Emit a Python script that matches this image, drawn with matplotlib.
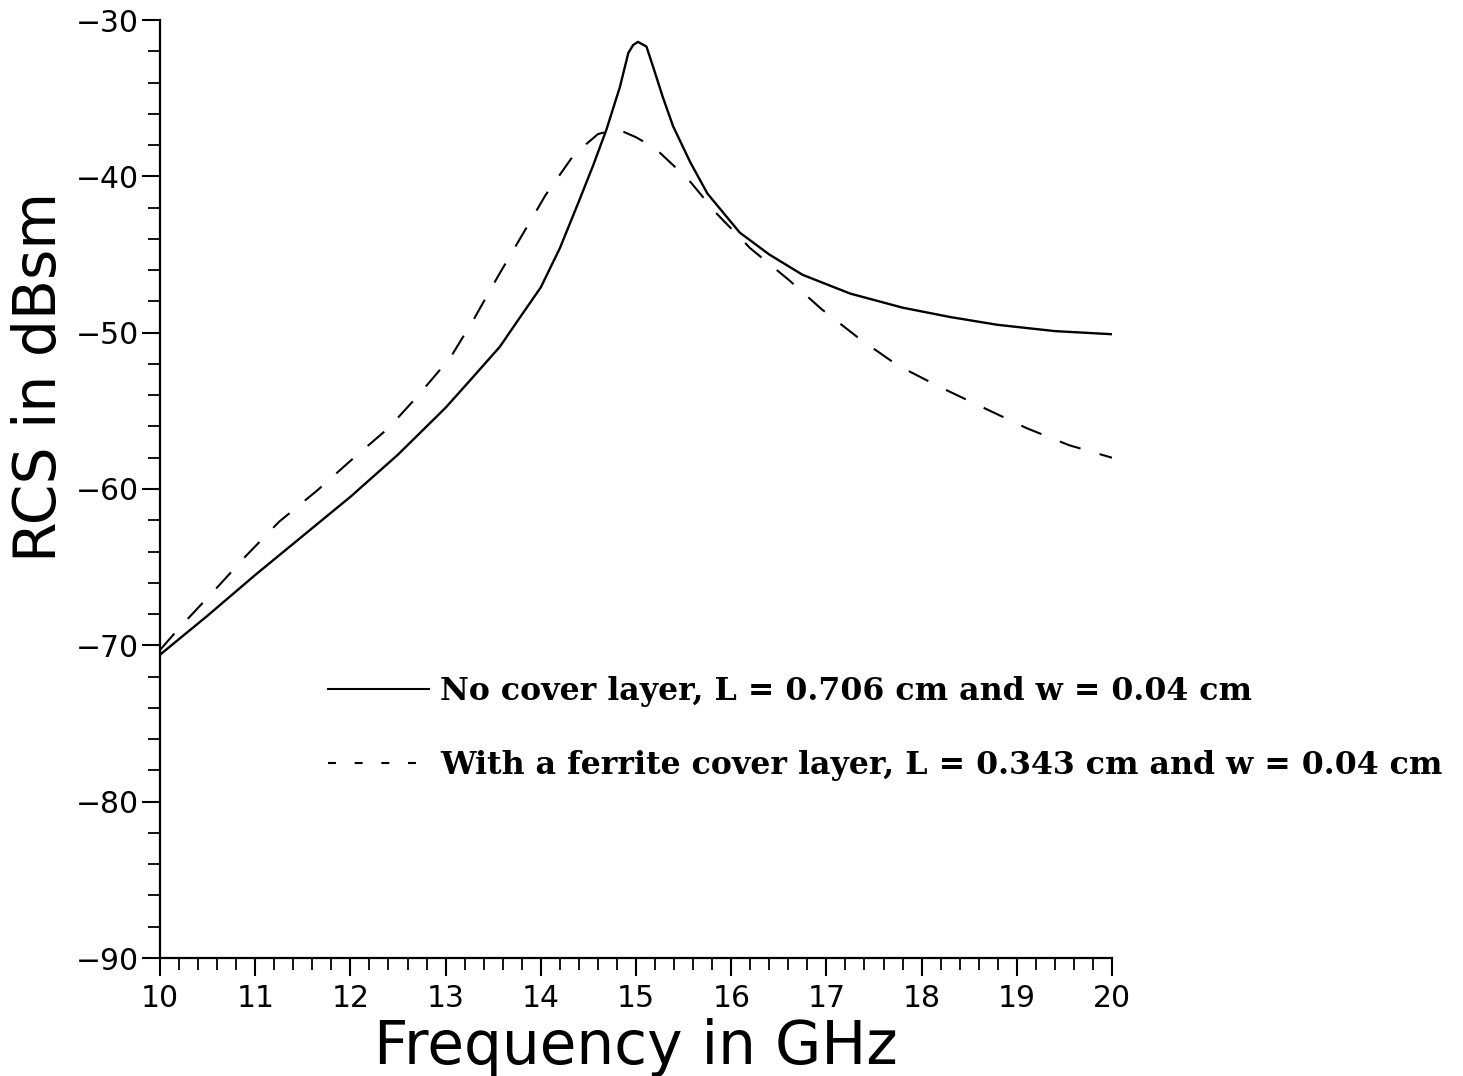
import matplotlib
matplotlib.use('Agg')
import matplotlib.pyplot as plt
from matplotlib.lines import Line2D
from matplotlib.ticker import MultipleLocator

# solid curve: no cover layer
f_solid = [10.0, 10.5, 11.0, 11.5, 12.0, 12.5, 13.0, 13.25, 13.57, 13.75, 14.0, 14.2, 14.4, 14.55,
           14.69, 14.83, 14.92, 14.97, 15.02, 15.11, 15.18, 15.28, 15.39, 15.57, 15.75, 16.09,
           16.4, 16.75, 17.25, 17.8, 18.3, 18.8, 19.4, 20.0]
rcs_solid = [-70.6, -68.1, -65.5, -63.0, -60.5, -57.8, -54.8, -53.1, -50.9, -49.3, -47.1, -44.6, -41.6, -39.3,
             -37.0, -34.3, -32.1, -31.6, -31.4, -31.7, -33.0, -34.9, -36.8, -39.1, -41.1, -43.6,
             -45.0, -46.3, -47.5, -48.4, -49.0, -49.5, -49.9, -50.1]

# dashed curve: ferrite cover layer
f_dash = [10.0, 10.2, 10.6, 10.9, 11.25, 11.65, 12.0, 12.4, 12.7, 13.05, 13.3, 13.55, 13.8, 14.05,
          14.35, 14.6, 14.72, 14.85, 15.0, 15.2, 15.55, 15.85, 16.2, 16.6, 16.95, 17.35, 17.75, 18.2,
          18.65, 19.1, 19.55, 20.0]
rcs_dash = [-70.3, -68.9, -66.3, -64.3, -62.1, -60.1, -58.2, -56.1, -54.1, -51.6, -49.1, -46.4, -43.8, -41.2,
            -38.6, -37.3, -37.1, -37.1, -37.5, -38.2, -40.2, -42.4, -44.6, -46.6, -48.5, -50.4, -52.1, -53.5,
            -54.8, -56.1, -57.2, -58.0]

labels = ['No cover layer, L = 0.706 cm and w = 0.04 cm',
          'With a ferrite cover layer, L = 0.343 cm and w = 0.04 cm']

fig = plt.figure(figsize=(14.63, 10.76), dpi=100)
ax = fig.add_axes([160/1463, 1-958/1076, (1112-160)/1463, (958-20)/1076])

ax.plot(f_solid, rcs_solid, color='k', lw=1.7)
ax.plot(f_dash, rcs_dash, color='k', lw=1.5, dashes=(10.5, 9.5))

ax.set_xlim(10, 20)
ax.set_ylim(-90, -30)
ax.xaxis.set_major_locator(MultipleLocator(1))
ax.xaxis.set_minor_locator(MultipleLocator(0.2))
ax.yaxis.set_major_locator(MultipleLocator(10))
ax.yaxis.set_minor_locator(MultipleLocator(2))
ax.spines['top'].set_visible(False)
ax.spines['right'].set_visible(False)
for s in ['left', 'bottom']:
    ax.spines[s].set_linewidth(1.6)
ax.tick_params(which='major', direction='out', length=13, width=1.5, labelsize=21.5, pad=2)
ax.tick_params(which='minor', direction='out', length=8.5, width=1.3)
ax.tick_params(axis='x', which='major', pad=6)

ax.set_xlabel('Frequency in GHz', fontsize=43)
ax.set_ylabel('RCS in dBsm', fontsize=42)
ax.xaxis.set_label_coords(0.5, -0.064)
ax.yaxis.set_label_coords(-0.097, 0.62)

handles = [Line2D([], [], color='k', lw=1.5),
           Line2D([], [], color='k', lw=1.5, dashes=(3.8, 9))]
leg = fig.legend(handles, labels, loc='upper left', bbox_to_anchor=(328/1463, 1-676/1076),
                 frameon=False, handlelength=3.2, handletextpad=0.35, labelspacing=1.36,
                 borderpad=0, borderaxespad=0,
                 prop={'family': 'DejaVu Serif', 'weight': 'bold', 'size': 22.8})

fig.savefig('out.png', dpi=100)
